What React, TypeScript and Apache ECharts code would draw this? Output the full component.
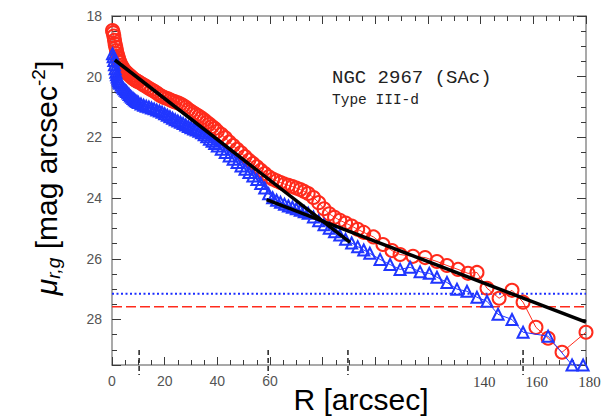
import React, { useEffect, useRef } from 'react';
import * as echarts from 'echarts';

// r-band surface-brightness profile [R arcsec, mu mag/arcsec^2] (red circles)
const rProfile = [
  [0.2,18.48],[0.45,18.55],[0.7,18.66],[0.95,18.8],[1.2,18.93],[1.45,19.03],[1.7,19.14],[1.95,19.24],
  [2.2,19.32],[2.45,19.39],[2.7,19.47],[3.0,19.53],[3.5,19.62],[4.0,19.7],[4.5,19.77],[5.0,19.82],
  [5.5,19.86],[6.0,19.9],[6.5,19.94],[7.0,19.98],[7.5,20.02],[8.0,20.06],[8.5,20.09],[9.0,20.12],
  [9.5,20.15],[10,20.17],[11,20.22],[12,20.27],[13,20.32],[14,20.38],[15,20.43],[16,20.48],
  [17,20.54],[18,20.6],[19,20.65],[20,20.69],[21,20.72],[22,20.76],[23,20.8],[24,20.83],
  [25,20.86],[26,20.9],[27,20.95],[28,21.01],[29,21.08],[30,21.14],[31,21.2],[32,21.25],
  [33,21.3],[34,21.36],[35,21.43],[36,21.5],[37,21.57],[38,21.64],[39,21.71],[40,21.8],
  [41.5,21.9],[43,22.01],[44.5,22.15],[46,22.27],[47.5,22.39],[49,22.51],[50.5,22.63],[52,22.75],
  [53.5,22.86],[55,22.97],[56.5,23.08],[58,23.19],[59.5,23.3],[61,23.37],[62.5,23.43],[64,23.49],
  [65.5,23.54],[67,23.58],[68.5,23.62],[70,23.67],[71.5,23.72],[73,23.78],[74.5,23.85],[76.5,23.98],
  [78.5,24.15],[80.5,24.35],[82.5,24.52],[84.5,24.63],[86.5,24.73],[88.7,24.82],[91,24.92],[93.3,25.03],
  [95.6,25.13],[99.3,25.28],[102.9,25.53],[106.3,25.73],[109.4,25.86],[114.3,25.92],[118.9,25.96],[123.4,26.09],
  [127.2,26.22],[131.4,26.35],[135.2,26.48],[138.6,26.45],[142.4,26.97],[147.0,27.3],[151.9,27.04],[156.1,27.43],
  [161.0,28.26],[165.6,28.62],[170.9,29.08],[180.0,28.42],
];

// g-band surface-brightness profile [R arcsec, mu mag/arcsec^2] (blue triangles)
const gProfile = [
  [0.2,19.24],[0.45,19.34],[0.7,19.47],[0.95,19.61],[1.2,19.74],[1.45,19.85],[1.7,19.94],[1.95,20.01],
  [2.2,20.08],[2.45,20.13],[2.7,20.18],[3.0,20.22],[3.5,20.28],[4.0,20.35],[4.5,20.4],[5.0,20.45],
  [5.5,20.49],[6.0,20.54],[6.5,20.59],[7.0,20.64],[7.5,20.68],[8.0,20.72],[8.5,20.76],[9.0,20.79],
  [9.5,20.82],[10,20.85],[11,20.9],[12,20.94],[13,20.97],[14,21.0],[15,21.03],[16,21.06],
  [17,21.1],[18,21.13],[19,21.17],[20,21.22],[21,21.27],[22,21.32],[23,21.37],[24,21.42],
  [25,21.46],[26,21.5],[27,21.54],[28,21.59],[29,21.64],[30,21.68],[31,21.72],[32,21.76],
  [33,21.8],[34,21.85],[35,21.91],[36,21.98],[37,22.06],[38,22.13],[39,22.2],[40,22.28],
  [41.5,22.39],[43,22.5],[44.5,22.61],[46,22.72],[47.5,22.83],[49,22.94],[50.5,23.05],[52,23.16],
  [53.5,23.27],[55,23.39],[56.5,23.52],[58,23.67],[59.5,23.86],[61,23.99],[62.5,24.07],[64,24.14],
  [65.5,24.2],[67,24.26],[68.5,24.3],[70,24.35],[71.5,24.4],[73,24.45],[74.5,24.5],[76.5,24.62],
  [78.5,24.75],[80.5,24.88],[82.5,24.99],[84.5,25.11],[86.5,25.22],[88.7,25.36],[91,25.48],[93.3,25.6],
  [95.6,25.71],[97.9,25.82],[101.8,26.02],[105.6,26.19],[109.4,26.35],[113.2,26.28],[117.0,26.43],[120.5,26.48],
  [123.4,26.61],[127.2,26.78],[131.0,27.0],[134.8,27.07],[138.6,27.27],[142.4,27.4],[146.6,27.83],[151.9,28.0],
  [156.1,28.42],[165.6,28.55],[174.7,29.5],[178.9,29.5],
];

// exponential fits (black lines)
const fitInnerR = [1.1, 90.4];
const fitInnerMu = [19.45, 25.46];
const fitOuterR = [58.7, 180];
const fitOuterMu = [24.05, 28.09];

// sky limits
const skyR = [0, 180];
const gSkyMu = 27.15;
const rSkyMu = 27.58;

// break radii markers on the bottom axis
const breakRadii = [10.3, 59.3, 89.6, 156.1];

const xTickLabels = [0, 20, 40, 60, 140, 160, 180];
const yTickLabels = [18, 20, 22, 24, 26, 28];
const galaxyName = 'NGC 2967 (SAc)';
const profileType = 'Type III-d';

const RED = '#ff2b1c';
const BLUE = '#2036ff';
const AXIS = '#8c8c8c';
const TICK = '#3a3a3a';
const X_MIN = 0, X_MAX = 180, Y_MIN = 18, Y_MAX = 29.5;

export default function App() {
  const ref = useRef<HTMLDivElement>(null);
  useEffect(() => {
    if (!ref.current) return;
    const chart = echarts.init(ref.current, null, { renderer: 'svg' });

    const xBase = (position: string, labels: boolean) => ({
      type: 'value', position, min: X_MIN, max: X_MAX, interval: 20,
      axisLine: { show: true, onZero: false, lineStyle: { color: AXIS, width: 1.5 } },
      axisTick: { show: true, inside: true, length: 8, lineStyle: { color: TICK, width: 1 } },
      minorTick: { show: true, splitNumber: 4, length: 5, lineStyle: { color: TICK, width: 1 } },
      splitLine: { show: false },
      minorSplitLine: { show: false },
      axisLabel: labels ? {
        show: true, margin: 9,
        formatter: (v: number) => xTickLabels.includes(v) ? (v < 100 ? `{s|${v}}` : `{t|${v}}`) : '',
        rich: {
          s: { fontFamily: 'Liberation Sans', fontSize: 14, color: '#555' },
          t: { fontFamily: 'Liberation Serif', fontSize: 15, color: '#444', padding: [0, 0, 0, 7] },
        },
      } : { show: false },
    });

    const yBase = (position: string, interval: number, len: number, labels: boolean, line: boolean) => ({
      type: 'value', position, min: Y_MIN, max: Y_MAX, interval, inverse: true,
      axisLine: { show: line, onZero: false, lineStyle: { color: AXIS, width: 1.5 } },
      axisTick: { show: true, inside: true, length: len, lineStyle: { color: TICK, width: 1 } },
      splitLine: { show: false },
      axisLabel: labels ? {
        show: true, margin: 10, color: '#555', fontFamily: 'Liberation Sans', fontSize: 14,
        formatter: (v: number) => yTickLabels.includes(v) ? String(v) : '',
      } : { show: false },
    });

    chart.setOption({
      animation: false,
      backgroundColor: '#fff',
      grid: { left: 112, right: 26, top: 16, bottom: 51, containLabel: false },
      xAxis: [xBase('bottom', true), xBase('top', false)],
      yAxis: [
        yBase('left', 0.5, 5, true, true),
        yBase('left', 2, 9, false, false),
        yBase('right', 0.5, 5, false, true),
        yBase('right', 2, 9, false, false),
      ],
      series: [
        {
          type: 'line', silent: true, symbol: 'none', z: 1,
          data: skyR.map((r) => [r, gSkyMu]),
          lineStyle: { color: '#1a2dff', width: 2, type: [2, 2.5] },
        },
        {
          type: 'line', silent: true, symbol: 'none', z: 1,
          data: skyR.map((r) => [r, rSkyMu]),
          lineStyle: { color: RED, width: 1.3, type: [10, 4] },
        },
        {
          type: 'line', name: 'r', silent: true, z: 2,
          data: rProfile,
          symbol: 'circle', symbolSize: 13, showAllSymbol: true,
          itemStyle: { color: 'rgba(0,0,0,0)', borderColor: RED, borderWidth: 2 },
          lineStyle: { color: RED, width: 1 },
        },
        {
          type: 'line', name: 'g', silent: true, z: 3,
          data: gProfile,
          symbol: 'triangle', symbolSize: 11, showAllSymbol: true,
          itemStyle: { color: 'rgba(0,0,0,0)', borderColor: BLUE, borderWidth: 2 },
          lineStyle: { color: BLUE, width: 1 },
        },
        {
          type: 'line', silent: true, symbol: 'none', z: 5,
          data: fitInnerR.map((r, i) => [r, fitInnerMu[i]]),
          lineStyle: { color: '#000', width: 3.5 },
        },
        {
          type: 'line', silent: true, symbol: 'none', z: 5,
          data: fitOuterR.map((r, i) => [r, fitOuterMu[i]]),
          lineStyle: { color: '#000', width: 3.5 },
        },
        {
          type: 'custom', silent: true, clip: false, z: 6,
          data: breakRadii.map((r) => [r, Y_MAX]),
          encode: { x: 0, y: 1 },
          renderItem: (params: any, api: any) => {
            const p = api.coord([api.value(0), api.value(1)]);
            return {
              type: 'line',
              shape: { x1: p[0], y1: p[1] - 15, x2: p[0], y2: p[1] + 10 },
              style: { stroke: '#222', lineWidth: 1.5, lineDash: [5, 3] },
            };
          },
        },
      ],
      graphic: [
        {
          type: 'text', x: 46, y: 178, rotation: Math.PI / 2, silent: true,
          style: {
            text: '{mu|μ}{sub|r,g}{n| [mag arcsec}{sup|-2}{n|]}',
            align: 'center', verticalAlign: 'middle', fill: '#000',
            rich: {
              mu: { fontFamily: 'Liberation Sans', fontSize: 30, fontStyle: 'italic', lineHeight: 34 },
              n: { fontFamily: 'Liberation Sans', fontSize: 30, lineHeight: 34 },
              sub: { fontFamily: 'Liberation Sans', fontSize: 19, fontStyle: 'italic', lineHeight: 20, verticalAlign: 'bottom' },
              sup: { fontFamily: 'Liberation Sans', fontSize: 19, lineHeight: 19, verticalAlign: 'top' },
            },
          },
        },
        {
          type: 'text', x: 361, y: 399, silent: true,
          style: {
            text: 'R [arcsec]', fontFamily: 'Liberation Sans', fontSize: 30,
            align: 'center', verticalAlign: 'middle', fill: '#000',
          },
        },
        {
          type: 'text', x: 332, y: 78, silent: true,
          style: {
            text: galaxyName, fontFamily: 'Liberation Mono', fontSize: 19,
            align: 'left', verticalAlign: 'middle', fill: '#222',
          },
        },
        {
          type: 'text', x: 332, y: 100, silent: true,
          style: {
            text: profileType, fontFamily: 'Liberation Mono', fontSize: 14.5,
            align: 'left', verticalAlign: 'middle', fill: '#222',
          },
        },
      ],
    });
    return () => chart.dispose();
  }, []);

  return (
    <div
      ref={ref}
      style={{ position: 'fixed', left: 0, top: 0, width: 612, height: 416, background: '#fff' }}
    />
  );
}
